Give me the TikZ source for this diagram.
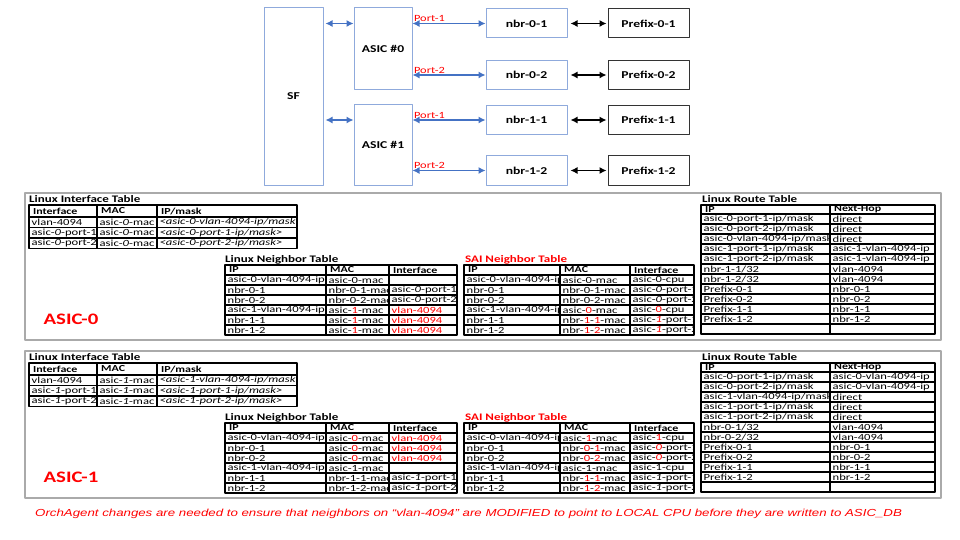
\documentclass[tikz,border=0pt]{standalone}
\usepackage{fontspec}
\setmainfont{Carlito}[FakeStretch=1.3]
\newfontfamily\cellfont{Carlito}[FakeStretch=1.34]
\newfontfamily\notefont{Liberation Sans}[FakeStretch=1.3]
\usetikzlibrary{arrows.meta}
\definecolor{boxblue}{RGB}{143,170,220}
\definecolor{arrblue}{RGB}{68,114,196}
\definecolor{framegray}{RGB}{170,170,170}
\newcommand{\rtxt}[1]{\textcolor{red}{#1}}
\tikzset{
  blk/.style={draw=boxblue, line width=1pt, font=\bfseries\fontsize{10.5}{12}\selectfont, inner sep=0pt},
  pfx/.style={blk, draw=black!80, line width=1pt},
  barrow/.style={{Latex[length=7pt,width=7pt]}-{Latex[length=7pt,width=7pt]}, arrblue, line width=1.2pt},
  karrow/.style={barrow, black},
  port/.style={red, font=\fontsize{9.5}{11}\selectfont, inner sep=1pt},
  tline/.style={line width=1.1pt},
  cell/.style={anchor=west, inner sep=0pt, font=\cellfont\fontsize{9.4}{10}\selectfont},
  ttl/.style={cell, font=\bfseries\fontsize{10}{10}\selectfont},
  hdr/.style={cell, font=\bfseries\fontsize{9.2}{10}\selectfont},
  note/.style={anchor=west, inner sep=0pt, red, font=\notefont\itshape\fontsize{10.2}{11}\selectfont},
}
% table grid: x0, x1, inner columns, top, first row, row height, rows
\newcommand{\tgrid}[7]{%
  \draw[tline] (#1,#4) rectangle (#2,{#5+#6*#7});
  \foreach \cx in {#3} \draw[tline] (\cx,#4) -- (\cx,{#5+#6*#7});
  \foreach \r in {1,...,#7} \draw[tline] (#1,{#5+#6*(\r-1)}) -- (#2,{#5+#6*(\r-1)});
}
% one column of entries: name, x0, x1, first row, row height, entries
\newcommand{\tcol}[6]{%
  \begin{scope}
    \clip (#2+0.6,#4) rectangle (#3-0.6,{#4+#5*12});
    \foreach \ctxt [count=\i] in {#6}
      \node[cell] (#1-\i) at (#2+2.5,{#4+#5*(\i-0.5)}) {\ctxt};
  \end{scope}
}
% frame, titles, grids and headers of one panel
\newcommand{\panelframe}[2]{%
  \draw[framegray, line width=1.5pt] (25,193) rectangle (941,340);
  \node[ttl] (#1-tif) at (29,199) {Linux Interface Table};
  \node[ttl] (#1-tnb) at (225,259.5) {Linux Neighbor Table};
  \node[ttl, red] (#1-tsai) at (465,259.5) {SAI Neighbor Table};
  \node[ttl] (#1-trt) at (702,199) {Linux Route Table};
  \tgrid{29}{297}{97,157}{205}{217}{10.5}{3}
  \tgrid{225}{457}{326,389}{265}{275}{10}{6}
  \tgrid{464}{694}{560,630}{265}{275}{10}{6}
  \tgrid{701}{935}{830}{205}{214}{10}{12}
  \node[hdr] (#1-h1) at (33,211) {Interface};
  \node[hdr] (#1-h2) at (101,211) {MAC};
  \node[hdr] (#1-h3) at (161,211) {IP/mask};
  \node[hdr] (#1-h4) at (229,270) {IP};
  \node[hdr] (#1-h5) at (330,270) {MAC};
  \node[hdr] (#1-h6) at (393,270) {Interface};
  \node[hdr] (#1-h7) at (468,270) {IP};
  \node[hdr] (#1-h8) at (564,270) {MAC};
  \node[hdr] (#1-h9) at (634,270) {Interface};
  \node[hdr] (#1-h10) at (705,209.5) {IP};
  \node[hdr] (#1-h11) at (834,209.5) {Next-Hop};
  \node[red, font=\bfseries\fontsize{16}{18}\selectfont] (#1-lbl) at (71,319) {#2};
}
\begin{document}
\begin{tikzpicture}[x=1pt, y=-1pt, line join=round]
\fill[white] (0,0) rectangle (960,540);
\useasboundingbox (0,0) rectangle (960,540);

% switch fabric, asics, neighbors and prefixes
\node[blk, minimum width=59pt, minimum height=177pt] (sf) at (293.5,96.5) {SF};
\node[blk, minimum width=58pt, minimum height=82pt] (asic0) at (383,49) {ASIC \#0};
\node[blk, minimum width=58pt, minimum height=80pt] (asic1) at (383,145) {ASIC \#1};
\foreach \n/\y in {0-1/23.5, 0-2/75, 1-1/120, 1-2/170.5} {
  \node[blk, minimum width=81pt, minimum height=29pt] (nbr\n) at (526.5,\y) {nbr-\n};
  \node[pfx, minimum width=81pt, minimum height=29pt] (pfx\n) at (648.5,\y) {Prefix-\n};
  \draw[karrow, shorten <=3pt, shorten >=1pt] (nbr\n) -- (pfx\n);
}
\draw[barrow, shorten <=2pt] (sf.east |- nbr0-1) -- (asic0.west |- nbr0-1);
\draw[barrow, shorten <=2pt] (sf.east |- nbr1-1) -- (asic1.west |- nbr1-1);
\foreach \a/\n/\p in {0/0-1/1, 0/0-2/2, 1/1-1/1, 1/1-2/2}
  \draw[barrow] (asic\a.east |- nbr\n) -- node[port, pos=0, above right] (port\n) {Port-\p} (nbr\n);

% ASIC-0 tables
\panelframe{a0}{ASIC-0}
\tcol{a0-if1}{29}{97}{217}{10.5}{vlan-4094, asic-\textit{0}-port-1, asic-\textit{0}-port-2}
\tcol{a0-if2}{97}{157}{217}{10.5}{asic-\textit{0}-mac, asic-\textit{0}-mac, asic-\textit{0}-mac}
\tcol{a0-if3}{157}{297}{217}{10.5}{\textit{<asic-0-vlan-4094-ip/mask>}, \textit{<asic-0-port-1-ip/mask>}, \textit{<asic-0-port-2-ip/mask>}}
\tcol{a0-nb1}{225}{326}{275}{10}{asic-0-vlan-4094-ip, nbr-0-1, nbr-0-2, asic-1-vlan-4094-ip, nbr-1-1, nbr-1-2}
\tcol{a0-nb2}{326}{389}{275}{10}{asic-0-mac, nbr-0-1-mac, nbr-0-2-mac, asic-\rtxt{1}-mac, asic-\rtxt{1}-mac, asic-\rtxt{1}-mac}
\tcol{a0-nb3}{389}{457}{275}{10}{{}, asic-\textit{0}-port-1, asic-\textit{0}-port-2, \rtxt{vlan-4094}, \rtxt{vlan-4094}, \rtxt{vlan-4094}}
\tcol{a0-sai1}{464}{560}{275}{10}{asic-0-vlan-4094-ip, nbr-0-1, nbr-0-2, asic-1-vlan-4094-ip, nbr-1-1, nbr-1-2}
\tcol{a0-sai2}{560}{630}{275}{10}{asic-0-mac, nbr-0-1-mac, nbr-0-2-mac, asic-\rtxt{0}-mac, nbr-\rtxt{1}-\rtxt{1}-mac, nbr-\rtxt{1}-\rtxt{2}-mac}
\tcol{a0-sai3}{630}{694}{275}{10}{asic-0-cpu, asic-\textit{0}-port-1, asic-\textit{0}-port-2, asic-\rtxt{0}-cpu, asic-\rtxt{\textit{1}}-port-1, asic-\rtxt{\textit{1}}-port-2}
\tcol{a0-rt1}{701}{830}{214}{10}{asic-0-port-1-ip/mask, asic-0-port-2-ip/mask, asic-0-vlan-4094-ip/mask, asic-1-port-1-ip/mask, asic-1-port-2-ip/mask, nbr-1-1/32, nbr-1-2/32, Prefix-0-1, Prefix-0-2, Prefix-1-1, Prefix-1-2}
\tcol{a0-rt2}{830}{935}{214}{10}{direct, direct, direct, asic-1-vlan-4094-ip, asic-1-vlan-4094-ip, vlan-4094, vlan-4094, nbr-0-1, nbr-0-2, nbr-1-1, nbr-1-2}

% ASIC-1 tables
\begin{scope}[shift={(0,158)}]
\panelframe{a1}{ASIC-1}
\tcol{a1-if1}{29}{97}{217}{10.5}{vlan-4094, asic-\textit{1}-port-1, asic-\textit{1}-port-2}
\tcol{a1-if2}{97}{157}{217}{10.5}{asic-\textit{1}-mac, asic-\textit{1}-mac, asic-\textit{1}-mac}
\tcol{a1-if3}{157}{297}{217}{10.5}{\textit{<asic-1-vlan-4094-ip/mask>}, \textit{<asic-1-port-1-ip/mask>}, \textit{<asic-1-port-2-ip/mask>}}
\tcol{a1-nb1}{225}{326}{275}{10}{asic-0-vlan-4094-ip, nbr-0-1, nbr-0-2, asic-1-vlan-4094-ip, nbr-1-1, nbr-1-2}
\tcol{a1-nb2}{326}{389}{275}{10}{asic-\rtxt{0}-mac, asic-\rtxt{0}-mac, asic-\rtxt{0}-mac, asic-1-mac, nbr-1-1-mac, nbr-1-2-mac}
\tcol{a1-nb3}{389}{457}{275}{10}{\rtxt{vlan-4094}, \rtxt{vlan-4094}, \rtxt{vlan-4094}, {}, asic-\textit{1}-port-1, asic-\textit{1}-port-2}
\tcol{a1-sai1}{464}{560}{275}{10}{asic-0-vlan-4094-ip, nbr-0-1, nbr-0-2, asic-1-vlan-4094-ip, nbr-1-1, nbr-1-2}
\tcol{a1-sai2}{560}{630}{275}{10}{asic-\rtxt{1}-mac, nbr-\rtxt{0}-\rtxt{1}-mac, nbr-\rtxt{0}-\rtxt{2}-mac, asic-1-mac, nbr-\rtxt{1}-\rtxt{1}-mac, nbr-\rtxt{1}-\rtxt{2}-mac}
\tcol{a1-sai3}{630}{694}{275}{10}{asic-\rtxt{1}-cpu, asic-\rtxt{\textit{0}}-port-1, asic-\rtxt{\textit{0}}-port-2, asic-1-cpu, asic-\textit{1}-port-1, asic-\textit{1}-port-2}
\tcol{a1-rt1}{701}{830}{214}{10}{asic-0-port-1-ip/mask, asic-0-port-2-ip/mask, asic-1-vlan-4094-ip/mask, asic-1-port-1-ip/mask, asic-1-port-2-ip/mask, nbr-0-1/32, nbr-0-2/32, Prefix-0-1, Prefix-0-2, Prefix-1-1, Prefix-1-2}
\tcol{a1-rt2}{830}{935}{214}{10}{asic-0-vlan-4094-ip, asic-0-vlan-4094-ip, direct, direct, direct, vlan-4094, vlan-4094, nbr-0-1, nbr-0-2, nbr-1-1, nbr-1-2}
\end{scope}

\node[note] (note) at (35,514) {OrchAgent changes are needed to ensure that neighbors on “vlan-4094” are MODIFIED to point to LOCAL CPU before they are written to ASIC\_DB};
\end{tikzpicture}
\end{document}
